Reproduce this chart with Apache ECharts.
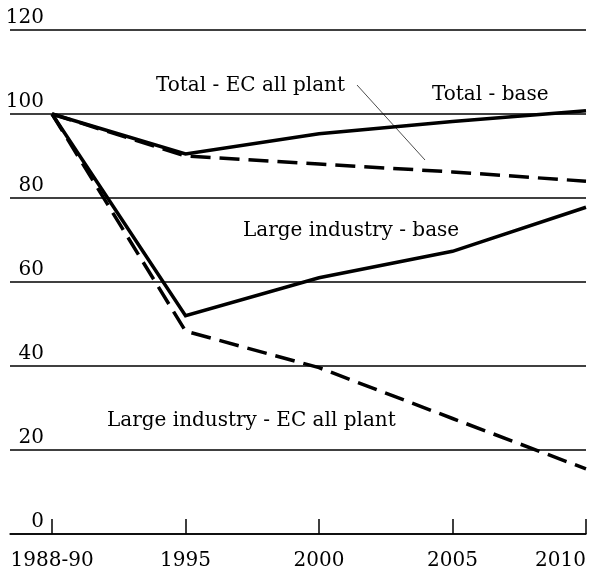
<!DOCTYPE html>
<html>
<head>
<meta charset="utf-8">
<script src="https://cdn.jsdelivr.net/npm/echarts@6/dist/echarts.min.js"></script>
<style>
  html, body { margin: 0; padding: 0; background: #fff; }
  #main { width: 592px; height: 574px; }
</style>
</head>
<body>
<div id="main"></div>
<script>
// x categories (placed at 0..4 on a value axis so gridlines can start left of the first one)
var periods = ['1988-90', '1995', '2000', '2005', '2010']
var yTicks = [0, 20, 40, 60, 80, 100, 120]

// series values (index, 1988-90 = 100)
var totalBase = [100, 90.5, 95.3, 98.2, 100.8]
var totalEC = [100, 90, 88.1, 86.2, 84]
var largeBase = [100, 52, 61, 67.3, 77.8]
var largeEC = [100, 48.3, 39.6, 27.5, 15.5]

var FONT = 'DejaVu Serif'

function pts (vals) {
  var out = []
  for (var i = 0; i < vals.length; i++) {
    out.push([i, vals[i]])
  }
  return out
}

function lineSeries (name, vals, dashed) {
  return {
    name: name,
    type: 'line',
    data: pts(vals),
    symbol: 'none',
    silent: true,
    lineStyle: {
      color: '#000',
      width: 3.5,
      type: dashed ? [20, 9] : 'solid',
      join: 'miter'
    }
  }
}

var myChart = echarts.init(document.getElementById('main'))

myChart.setOption({
  animation: false,
  backgroundColor: '#fff',
  grid: { left: 10, right: 6, top: 30, bottom: 40, outerBoundsMode: 'none', containLabel: false },
  xAxis: {
    type: 'value',
    min: -0.315,
    max: 4,
    interval: 1,
    splitLine: { show: false },
    axisLine: { show: true, lineStyle: { color: '#000', width: 1.5 } },
    axisTick: {
      show: true,
      inside: true,
      length: 15,
      lineStyle: { color: '#000', width: 1.5 },
      customValues: [0, 1, 2, 3, 4]
    },
    axisLabel: {
      color: '#000',
      fontFamily: FONT,
      fontSize: 20,
      margin: 17,
      alignMaxLabel: 'right',
      customValues: [0, 1, 2, 3, 4],
      formatter: function (v) { return periods[Math.round(v)] }
    }
  },
  yAxis: {
    type: 'value',
    min: 0,
    max: 120,
    interval: 20,
    axisLine: { show: false },
    axisTick: { show: false },
    splitLine: { show: true, lineStyle: { color: '#000', width: 1.5 } },
    axisLabel: {
      inside: true,
      align: 'right',
      verticalAlign: 'bottom',
      margin: 34,
      padding: [0, 0, 2, 0],
      color: '#000',
      fontFamily: FONT,
      fontSize: 20,
      formatter: function (v) { return yTicks.indexOf(v) >= 0 ? String(v) : '' }
    }
  },
  graphic: [
    {
      type: 'text', left: 156, top: 76,
      style: { text: 'Total - EC all plant', font: '20px "' + FONT + '"', fill: '#000' }
    },
    {
      type: 'text', left: 432, top: 85,
      style: { text: 'Total - base', font: '20px "' + FONT + '"', fill: '#000' }
    },
    {
      type: 'text', left: 243, top: 221,
      style: { text: 'Large industry - base', font: '20px "' + FONT + '"', fill: '#000' }
    },
    {
      type: 'text', left: 107, top: 411,
      style: { text: 'Large industry - EC all plant', font: '20px "' + FONT + '"', fill: '#000' }
    },
    {
      type: 'line',
      shape: { x1: 357, y1: 85, x2: 425, y2: 160 },
      style: { stroke: '#000', lineWidth: 0.7 }
    }
  ],
  series: [
    lineSeries('Total - base', totalBase, false),
    lineSeries('Total - EC all plant', totalEC, true),
    lineSeries('Large industry - base', largeBase, false),
    lineSeries('Large industry - EC all plant', largeEC, true)
  ]
})
</script>
</body>
</html>
